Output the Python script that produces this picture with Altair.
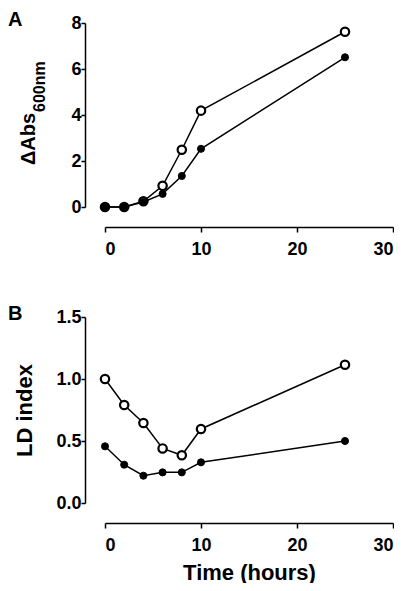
import altair as alt
import pandas as pd

# ---- data ----
time_h = [0, 2, 4, 6, 8, 10, 25]
abs_open = [0.0, 0.0, 0.25, 0.92, 2.49, 4.19, 7.62]
abs_closed = [0.0, 0.0, 0.22, 0.57, 1.35, 2.53, 6.51]
ld_open = [1.0, 0.79, 0.645, 0.44, 0.385, 0.597, 1.115]
ld_closed = [0.457, 0.309, 0.22, 0.247, 0.247, 0.328, 0.5]

x_ticks = [0, 10, 20, 30]
abs_ticks = [0, 2, 4, 6, 8]
ld_ticks = [0.0, 0.5, 1.0, 1.5]

FONT = "Liberation Sans"


def long_df(open_vals, closed_vals):
    rows = []
    for t, v in zip(time_h, open_vals):
        rows.append({"time": t, "value": v, "series": "open"})
    for t, v in zip(time_h, closed_vals):
        rows.append({"time": t, "value": v, "series": "closed"})
    return pd.DataFrame(rows)


def axis_common(**kw):
    base = dict(
        offset=20, grid=False, domainColor="black", domainWidth=1.5,
        tickColor="black", tickWidth=1.5, tickSize=5,
        labelFont=FONT, labelFontSize=18, labelFontWeight="bold",
        labelColor="black", titleFont=FONT, titleFontSize=22,
        titleFontWeight="bold", titleColor="black",
    )
    base.update(kw)
    return alt.Axis(**base)


def panel(df, ydomain, yticks, yfmt, letter, xtitle, ytitle, lab_y):
    if xtitle:
        xaxis = axis_common(values=x_ticks, labelPadding=8,
                            title=xtitle, titlePadding=8)
    else:
        xaxis = axis_common(values=x_ticks, labelPadding=8, title=None)
    x = alt.X("time:Q", scale=alt.Scale(domain=[0, 30], nice=False), axis=xaxis)
    if ytitle:
        yaxis = axis_common(values=yticks, format=yfmt, labelPadding=0,
                            tickSize=4, title=ytitle, titlePadding=19)
    else:
        yaxis = axis_common(values=yticks, format=yfmt, labelPadding=0,
                            tickSize=4, title=None)
    y = alt.Y("value:Q", scale=alt.Scale(domain=ydomain, nice=False), axis=yaxis)

    base = alt.Chart(df)
    lines = base.mark_line(color="black", strokeWidth=1.5).encode(
        x=x, y=y, detail="series:N")
    open_pts = base.transform_filter(alt.datum.series == "open").mark_point(
        shape="circle", filled=True, fill="white", stroke="black",
        strokeWidth=2.2, size=70, opacity=1).encode(x=x, y=y)
    closed_pts = base.transform_filter(alt.datum.series == "closed").mark_point(
        shape="circle", filled=True, fill="black", stroke="black",
        strokeWidth=1, size=50, opacity=1).encode(x=x, y=y)

    lab = alt.Chart(pd.DataFrame({"t": [letter]})).mark_text(
        align="left", baseline="alphabetic", font=FONT, fontSize=20,
        fontWeight="bold", color="black").encode(
        x=alt.value(-97), y=alt.value(lab_y), text="t:N")

    return [lines, open_pts, closed_pts, lab]


df_a = long_df(abs_open, abs_closed)
df_b = long_df(ld_open, ld_closed)

layers_a = panel(df_a, [0, 8], abs_ticks, "d", "A", None, None, 3)
# y title of panel A with subscript, as two text pieces
t_main = alt.Chart(pd.DataFrame({"t": ["ΔAbs"]})).mark_text(
    angle=270, align="left", baseline="alphabetic", font=FONT, fontSize=20,
    fontWeight="bold", color="black").encode(
    x=alt.value(-70), y=alt.value(142), text="t:N")
t_sub = alt.Chart(pd.DataFrame({"t": ["600nm"]})).mark_text(
    angle=270, align="left", baseline="alphabetic", font=FONT, fontSize=16,
    fontWeight="bold", color="black").encode(
    x=alt.value(-60), y=alt.value(89), text="t:N")

chart_a = alt.layer(*layers_a, t_main, t_sub).properties(width=288, height=184)

layers_b = panel(df_b, [0, 1.5], ld_ticks, ".1f", "B", "Time (hours)",
                 "LD index", 3)
chart_b = alt.layer(*layers_b).properties(width=288, height=186)

chart = alt.vconcat(chart_a, chart_b, spacing=46).configure_view(
    stroke=None).properties(
    padding={"left": 0, "top": 2, "right": 0, "bottom": 0},
    background="white")

chart.save("out.html", embed_options={"renderer": "svg", "actions": False})
